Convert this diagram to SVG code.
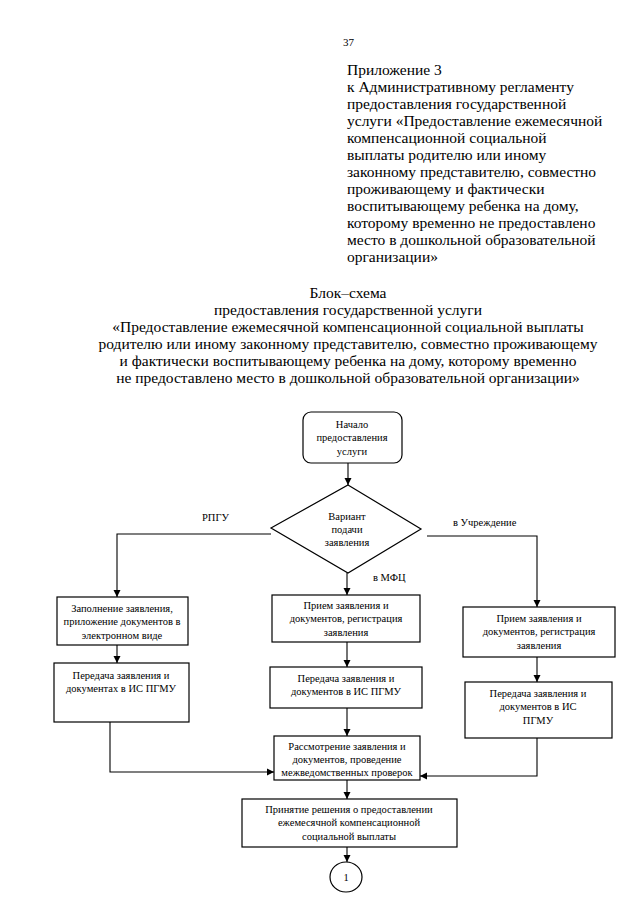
<svg xmlns="http://www.w3.org/2000/svg" width="640" height="905" viewBox="0 0 640 905">
<defs>
<marker id="ah" markerWidth="8" markerHeight="8" refX="7" refY="4" orient="auto" markerUnits="userSpaceOnUse">
<path d="M0,0.5 L7,4 L0,7.5 Z" fill="#000"/>
</marker>
</defs>
<style>
.t{font-family:"Liberation Serif","Times New Roman",serif;fill:#000}
.h{font-size:15.5px}
.n{font-size:10.5px;text-anchor:middle}
.c{text-anchor:middle}
.b{fill:#fff;stroke:#000;stroke-width:1.2}
.e{fill:none;stroke:#000;stroke-width:1.1}
</style>
<rect width="640" height="905" fill="#fff"/>
<text class="t" x="343" y="46" font-size="11">37</text>
<g id="annex" class="t h">
<text x="347" y="75">Приложение 3</text>
<text x="347" y="92">к Административному регламенту</text>
<text x="347" y="109">предоставления государственной</text>
<text x="347" y="126">услуги «Предоставление ежемесячной</text>
<text x="347" y="143">компенсационной социальной</text>
<text x="347" y="160">выплаты родителю или иному</text>
<text x="347" y="177">законному представителю, совместно</text>
<text x="347" y="194">проживающему и фактически</text>
<text x="347" y="211">воспитывающему ребенка на дому,</text>
<text x="347" y="228">которому временно не предоставлено</text>
<text x="347" y="245">место в дошкольной образовательной</text>
<text x="347" y="262">организации»</text>
</g>
<g id="title" class="t h c">
<text x="348" y="298">Блок–схема</text>
<text x="348" y="315">предоставления государственной услуги</text>
<text x="348" y="332">«Предоставление ежемесячной компенсационной социальной выплаты</text>
<text x="348" y="349">родителю или иному законному представителю, совместно проживающему</text>
<text x="348" y="366">и фактически воспитывающему ребенка на дому, которому временно</text>
<text x="348" y="383">не предоставлено место в дошкольной образовательной организации»</text>
</g>
<g id="connectors">
<line class="e" x1="348" y1="463" x2="348" y2="485" marker-end="url(#ah)"/>
<polyline class="e" points="271,534 117,534 117,597" marker-end="url(#ah)"/>
<polyline class="e" points="427,536 537,536 537,607" marker-end="url(#ah)"/>
<line class="e" x1="347" y1="573" x2="347" y2="595" marker-end="url(#ah)"/>
<line class="e" x1="117" y1="645" x2="117" y2="663" marker-end="url(#ah)"/>
<line class="e" x1="347" y1="642" x2="347" y2="667" marker-end="url(#ah)"/>
<line class="e" x1="537" y1="657" x2="537" y2="682" marker-end="url(#ah)"/>
<polyline class="e" points="110,722 110,772 274,772" marker-end="url(#ah)"/>
<line class="e" x1="347" y1="708" x2="347" y2="736" marker-end="url(#ah)"/>
<polyline class="e" points="537,738 537,776 420,776" marker-end="url(#ah)"/>
<line class="e" x1="347" y1="780" x2="347" y2="799" marker-end="url(#ah)"/>
<line class="e" x1="347" y1="847" x2="347" y2="862" marker-end="url(#ah)"/>
<text class="t" x="202" y="521" font-size="10.5">РПГУ</text>
<text class="t" x="453" y="526" font-size="10.5">в Учреждение</text>
<text class="t" x="373" y="581" font-size="10.5">в МФЦ</text>
</g>
<g id="start">
<rect class="b" x="303" y="412" width="99" height="51" rx="8"/>
<text class="t n" x="352" y="428">Начало</text>
<text class="t n" x="352" y="441">предоставления</text>
<text class="t n" x="352" y="455">услуги</text>
</g>
<g id="decision">
<polygon class="b" points="348,485 421,529 348,573 271,528"/>
<text class="t n" x="347" y="520">Вариант</text>
<text class="t n" x="347" y="533">подачи</text>
<text class="t n" x="347" y="546">заявления</text>
</g>
<g id="rpgu1">
<rect class="b" x="57" y="597" width="131" height="48"/>
<text class="t n" x="122" y="612">Заполнение заявления,</text>
<text class="t n" x="122" y="625">приложение документов в</text>
<text class="t n" x="122" y="639">электронном виде</text>
</g>
<g id="rpgu2">
<rect class="b" x="54" y="663" width="135" height="59"/>
<text class="t n" x="121" y="679">Передача заявления и</text>
<text class="t n" x="121" y="692">документах в ИС ПГМУ</text>
</g>
<g id="mfc1">
<rect class="b" x="272" y="595" width="148" height="47"/>
<text class="t n" x="346" y="609">Прием заявления и</text>
<text class="t n" x="346" y="622">документов, регистрация</text>
<text class="t n" x="346" y="636">заявления</text>
</g>
<g id="mfc2">
<rect class="b" x="270" y="667" width="152" height="41"/>
<text class="t n" x="346" y="682">Передача заявления и</text>
<text class="t n" x="346" y="695">документов в ИС ПГМУ</text>
</g>
<g id="inst1">
<rect class="b" x="463" y="607" width="152" height="50"/>
<text class="t n" x="539" y="622">Прием заявления и</text>
<text class="t n" x="539" y="635">документов, регистрация</text>
<text class="t n" x="539" y="649">заявления</text>
</g>
<g id="inst2">
<rect class="b" x="465" y="682" width="147" height="56"/>
<text class="t n" x="538" y="697">Передача заявления и</text>
<text class="t n" x="538" y="710">документов в ИС</text>
<text class="t n" x="538" y="724">ПГМУ</text>
</g>
<g id="review">
<rect class="b" x="274" y="736" width="146" height="44"/>
<text class="t n" x="347" y="750">Рассмотрение заявления и</text>
<text class="t n" x="347" y="763">документов, проведение</text>
<text class="t n" x="347" y="776">межведомственных проверок</text>
</g>
<g id="decide">
<rect class="b" x="242" y="799" width="215" height="48"/>
<text class="t n" x="349" y="813">Принятие решения о предоставлении</text>
<text class="t n" x="349" y="826">ежемесячной компенсационной</text>
<text class="t n" x="349" y="840">социальной выплаты</text>
</g>
<g id="connector1">
<ellipse class="b" cx="346" cy="877" rx="16" ry="15"/>
<text class="t n" x="346" y="881">1</text>
</g>
</svg>
